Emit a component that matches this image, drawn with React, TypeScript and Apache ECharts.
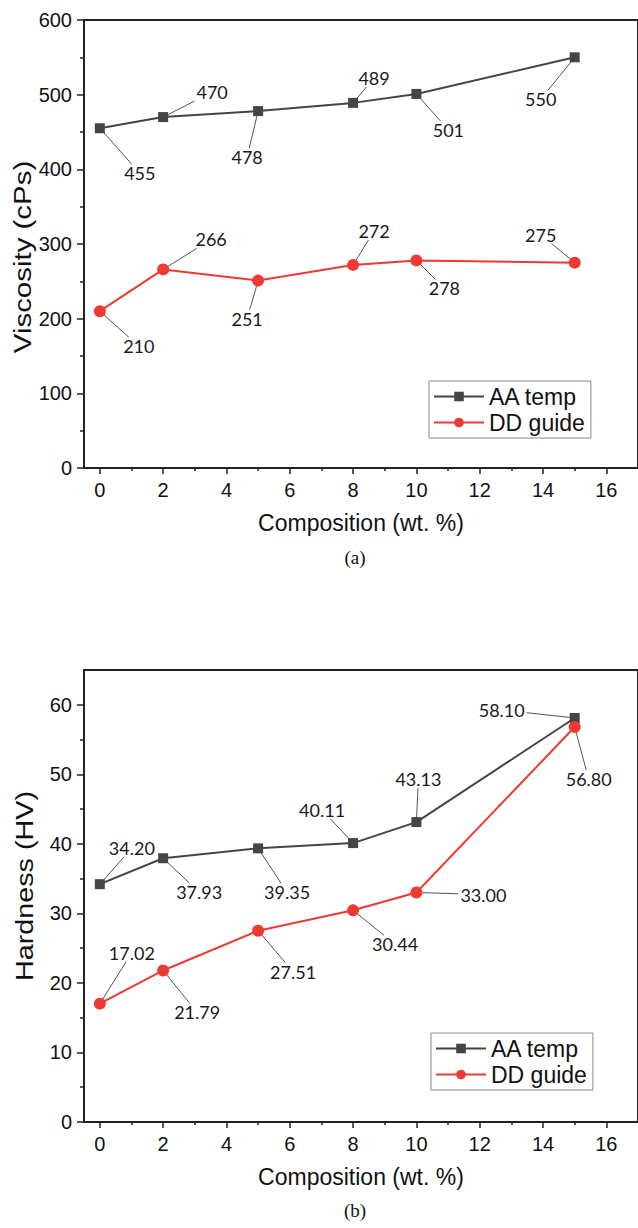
import React, { useEffect, useRef } from "react";
import * as echarts from "echarts";

// ---- data ----
const composition = [0, 2, 5, 8, 10, 15];
const viscosityAA = [455, 470, 478, 489, 501, 550];
const viscosityDD = [210, 266, 251, 272, 278, 275];
const hardnessAA = [34.2, 37.93, 39.35, 40.11, 43.13, 58.1];
const hardnessDD = [17.02, 21.79, 27.51, 30.44, 33.0, 56.8];
const xMajorTicks = [0, 2, 4, 6, 8, 10, 12, 14, 16];
const xMinorTicks = [1, 3, 5, 7, 9, 11, 13, 15];
const viscMajorTicks = [0, 100, 200, 300, 400, 500, 600];
const viscMinorTicks = [50, 150, 250, 350, 450, 550];
const hardMajorTicks = [0, 10, 20, 30, 40, 50, 60];
const hardMinorTicks = [5, 15, 25, 35, 45, 55];
const seriesNames = ["AA temp", "DD guide"];

// ---- label placement (pixel offsets from the marker) ----
const viscAAOffsets = [[40, 45], [49, -25], [-11, 46], [21, -25], [32, 36], [-34, 42]];
const viscDDOffsets = [[39, 35], [48, -30], [-11, 38], [21, -34], [28, 28], [-34, -28]];
const hardAAOffsets = [[32, -36], [36, 34], [29, 44], [-31, -33], [2, -43], [-73, -8]];
const hardDDOffsets = [[32, -51], [34, 42], [35, 41], [42, 34], [67, 2], [14, 52]];

const AXIS_COLOR = "#222";
const GRAY = "#454545";
const RED = "#ee3a33";
const SANS = "'Liberation Sans', Arial, sans-serif";
const LABEL_FONT_FAMILY = "Lato, 'Open Sans', sans-serif";
const LABEL_FONT_SIZE = 18;

function pairs(ys: number[]) {
  return composition.map((x, i) => [x, ys[i]]);
}

function xAxesFor(grid: number) {
  const base = { gridIndex: grid, type: "value", min: -0.5, max: 17, splitLine: { show: false } };
  return [
    {
      ...base,
      position: "bottom",
      name: "Composition (wt. %)",
      nameLocation: "middle",
      nameGap: 43,
      nameTextStyle: { fontSize: 23, fontFamily: SANS, color: "#111" },
      axisLine: { show: true, onZero: false, lineStyle: { color: AXIS_COLOR, width: 2 } },
      axisTick: { show: true, customValues: xMajorTicks, length: 6, lineStyle: { color: AXIS_COLOR, width: 1.5 } },
      axisLabel: { show: true, customValues: xMajorTicks, margin: 12, fontSize: 20, fontFamily: SANS, color: "#111" },
    },
    {
      ...base,
      position: "bottom",
      axisLine: { show: false, onZero: false },
      axisTick: { show: true, customValues: xMinorTicks, length: 3, lineStyle: { color: AXIS_COLOR, width: 1.5 } },
      axisLabel: { show: false },
    },
    {
      ...base,
      position: "top",
      axisLine: { show: true, onZero: false, lineStyle: { color: AXIS_COLOR, width: 2 } },
      axisTick: { show: false },
      axisLabel: { show: false },
    },
  ];
}

function yAxesFor(grid: number, max: number, major: number[], minor: number[]) {
  const base = { gridIndex: grid, type: "value", min: 0, max, splitLine: { show: false } };
  return [
    {
      ...base,
      position: "left",
      axisLine: { show: true, onZero: false, lineStyle: { color: AXIS_COLOR, width: 2 } },
      axisTick: { show: true, customValues: major, length: 7, lineStyle: { color: AXIS_COLOR, width: 1.5 } },
      axisLabel: { show: true, customValues: major, margin: 12, fontSize: 20, fontFamily: SANS, color: "#111" },
    },
    {
      ...base,
      position: "left",
      axisLine: { show: false, onZero: false },
      axisTick: { show: true, customValues: minor, length: 4, lineStyle: { color: AXIS_COLOR, width: 1.5 } },
      axisLabel: { show: false },
    },
    {
      ...base,
      position: "right",
      axisLine: { show: true, onZero: false, lineStyle: { color: AXIS_COLOR, width: 2 } },
      axisTick: { show: false },
      axisLabel: { show: false },
    },
  ];
}

function makeSeries(
  name: string,
  ys: number[],
  xIdx: number,
  yIdx: number,
  offsets: number[][],
  isAA: boolean,
  decimals: number
) {
  const color = isAA ? GRAY : RED;
  return {
    type: "line",
    name,
    xAxisIndex: xIdx,
    yAxisIndex: yIdx,
    data: pairs(ys),
    symbol: isAA ? "rect" : "circle",
    symbolSize: isAA ? 10 : 12,
    lineStyle: { color, width: 2 },
    itemStyle: { color },
    z: isAA ? 3 : 4,
    label: {
      show: true,
      position: "inside",
      fontSize: LABEL_FONT_SIZE,
      fontFamily: LABEL_FONT_FAMILY,
      color: "#1a1a1a",
      formatter: (p: any) => Number(p.value[1]).toFixed(decimals),
    },
    labelLayout: (p: any) => {
      const o = offsets[p.dataIndex] || [0, 0];
      return { dx: o[0], dy: o[1] };
    },
  };
}

function legendFor(left: number, top: number) {
  return {
    orient: "vertical",
    left,
    top,
    data: seriesNames,
    itemWidth: 50,
    itemHeight: 12,
    itemGap: 3,
    padding: [4, 6, 4, 4],
    borderColor: "#888",
    borderWidth: 1,
    selectedMode: false,
    textStyle: { fontSize: 23, fontFamily: SANS, color: "#111" },
  };
}

let measureCtx: CanvasRenderingContext2D | null = null;
function textWidth(t: string) {
  if (!measureCtx) measureCtx = document.createElement("canvas").getContext("2d");
  if (!measureCtx) return t.length * 10;
  measureCtx.font = `${LABEL_FONT_SIZE}px ${LABEL_FONT_FAMILY}`;
  return measureCtx.measureText(t).width;
}

// leader lines from each marker to its (moved) label, positioned via the axes' own scales
function leaderLines(chart: any, axisIdx: number, ys: number[], offsets: number[][], decimals: number) {
  const out: any[] = [];
  ys.forEach((y, i) => {
    const p = chart.convertToPixel({ xAxisIndex: axisIdx, yAxisIndex: axisIdx }, [composition[i], y]);
    const o = offsets[i];
    const cx = p[0] + o[0];
    const cy = p[1] + o[1];
    const hw = textWidth(y.toFixed(decimals)) / 2 + 2;
    const hh = 9;
    const dx = p[0] - cx;
    const dy = p[1] - cy;
    const s = Math.min(dx !== 0 ? hw / Math.abs(dx) : Infinity, dy !== 0 ? hh / Math.abs(dy) : Infinity);
    if (s >= 1) return;
    const ex = cx + dx * s;
    const ey = cy + dy * s;
    const len = Math.hypot(ex - p[0], ey - p[1]);
    const start = 5;
    if (len <= start) return;
    const sx = p[0] + ((ex - p[0]) / len) * start;
    const sy = p[1] + ((ey - p[1]) / len) * start;
    out.push({
      type: "line",
      silent: true,
      z: 2,
      shape: { x1: sx, y1: sy, x2: ex, y2: ey },
      style: { stroke: "#555", lineWidth: 1 },
    });
  });
  return out;
}

function captions() {
  return [
    {
      type: "text",
      x: 355,
      y: 557,
      style: { text: "(a)", fontSize: 19, fontFamily: "'Liberation Serif', serif", fill: "#111", align: "center", verticalAlign: "middle" },
    },
    {
      type: "text",
      x: 355,
      y: 1210,
      style: { text: "(b)", fontSize: 19, fontFamily: "'Liberation Serif', serif", fill: "#111", align: "center", verticalAlign: "middle" },
    },
    {
      type: "text",
      x: 23,
      y: 257,
      rotation: Math.PI / 2,
      scaleX: 1.28,
      style: { text: "Viscosity (cPs)", fontSize: 23, fontFamily: SANS, fill: "#111", align: "center", verticalAlign: "middle" },
    },
    {
      type: "text",
      x: 25,
      y: 886,
      rotation: Math.PI / 2,
      scaleX: 1.25,
      style: { text: "Hardness (HV)", fontSize: 23, fontFamily: SANS, fill: "#111", align: "center", verticalAlign: "middle" },
    },
  ];
}

export default function App() {
  const ref = useRef<HTMLDivElement>(null);
  useEffect(() => {
    document.body.style.margin = "0";
    document.body.style.overflow = "hidden";
    if (!ref.current) return;
    const chart = echarts.init(ref.current, undefined, { renderer: "svg" });
    const option: any = {
      animation: false,
      backgroundColor: "#fff",
      grid: [
        { left: 84, top: 20, width: 558, height: 448 },
        { left: 84, top: 670, width: 558, height: 452 },
      ],
      xAxis: [...xAxesFor(0), ...xAxesFor(1)],
      yAxis: [
        ...yAxesFor(0, 600, viscMajorTicks, viscMinorTicks),
        ...yAxesFor(1, 65, hardMajorTicks, hardMinorTicks),
      ],
      legend: [legendFor(429, 381), legendFor(431, 1033)],
      series: [
        makeSeries("AA temp", viscosityAA, 0, 0, viscAAOffsets, true, 0),
        makeSeries("DD guide", viscosityDD, 0, 0, viscDDOffsets, false, 0),
        makeSeries("AA temp", hardnessAA, 3, 3, hardAAOffsets, true, 2),
        makeSeries("DD guide", hardnessDD, 3, 3, hardDDOffsets, false, 2),
      ],
      graphic: captions(),
    };
    chart.setOption(option);
    const lines = [
      ...leaderLines(chart, 0, viscosityAA, viscAAOffsets, 0),
      ...leaderLines(chart, 0, viscosityDD, viscDDOffsets, 0),
      ...leaderLines(chart, 3, hardnessAA, hardAAOffsets, 2),
      ...leaderLines(chart, 3, hardnessDD, hardDDOffsets, 2),
    ];
    chart.setOption({ ...option, graphic: [...captions(), ...lines] }, true);
    return () => chart.dispose();
  }, []);
  return <div ref={ref} style={{ width: 638, height: 1228 }} />;
}
